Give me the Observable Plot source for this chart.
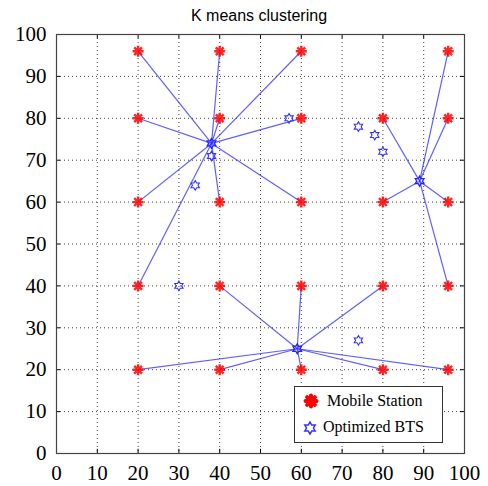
<!DOCTYPE html>
<html>
<head>
<meta charset="utf-8">
<script src="https://cdn.jsdelivr.net/npm/d3@7"></script>
<script src="https://cdn.jsdelivr.net/npm/@observablehq/plot@0.6"></script>
<style>
  html, body { margin: 0; padding: 0; background: #fff; }
  #wrap { position: relative; width: 488px; height: 486px; }
  #chart svg, #chart svg text { font-family: "Liberation Serif", "Times New Roman", serif !important; }
  #title { position: absolute; left: 0; width: 518px; top: 7px; text-align: center;
           font-family: "Liberation Sans", Arial, sans-serif; font-size: 16px; color: #000; }
  #legend { position: absolute; left: 294px; top: 386px; width: 149px; height: 57px;
            border: 1px solid #333; background: #fff; box-sizing: border-box;
            font-family: "Liberation Serif", "Times New Roman", serif; font-size: 16px; color: #000; }
  #legend .row { position: absolute; left: 0; display: flex; align-items: center; }
  #legend svg { display: block; }
</style>
</head>
<body>
<div id="wrap">
  <div id="chart"></div>
  <div id="title">K means clustering</div>
  <div id="legend">
    <div class="row" style="top:4px;left:5px;">
      <svg width="22" height="20"><g id="ms-icon"></g></svg>
      <span style="margin-left:5px;">Mobile Station</span>
    </div>
    <div class="row" style="top:30px;left:7px;">
      <svg width="18" height="20"><g id="bts-icon"></g></svg>
      <span style="margin-left:3px;">Optimized BTS</span>
    </div>
  </div>
</div>
<script>
// ---- data ----
const stationX = [20, 40, 60, 96, 20, 40, 60, 80, 96, 20, 40, 60, 80, 96, 20, 40, 60, 80, 96, 20, 40, 60, 80, 96];
const stationY = [96, 96, 96, 96, 80, 80, 80, 80, 80, 60, 60, 60, 60, 60, 40, 40, 40, 40, 40, 20, 20, 20, 20, 20];
const stationCluster = [0, 0, 0, 1, 0, 0, 0, 1, 1, 0, 0, 0, 1, 1, 0, 2, 2, 2, 1, 2, 2, 2, 2, 2];
const centroidX = [38, 89, 59];
const centroidY = [74, 65, 25];
const btsX = [57, 34, 38, 30, 74, 78, 80, 74];
const btsY = [80, 64, 71, 40, 78, 76, 72, 27];
const tickValues = [0, 10, 20, 30, 40, 50, 60, 70, 80, 90, 100];

// ---- derived tables ----
const stations = stationX.map((x, i) => ({x, y: stationY[i], c: stationCluster[i]}));
const links = stations.map(s => ({x1: centroidX[s.c], y1: centroidY[s.c], x2: s.x, y2: s.y}));
const centroids = centroidX.map((x, i) => ({x, y: centroidY[i]}));
const bts = btsX.map((x, i) => ({x, y: btsY[i]}));
const inner = tickValues.filter(v => v > 0 && v < 100);

// custom symbols
const hexagram = {
  draw(ctx, size) {
    const r = Math.sqrt(size / Math.PI);
    const ri = r / Math.sqrt(3);
    for (let k = 0; k < 12; k++) {
      const a = -Math.PI / 2 + k * Math.PI / 6;
      const rr = k % 2 === 0 ? r : ri;
      const px = rr * Math.cos(a), py = rr * Math.sin(a);
      if (k === 0) ctx.moveTo(px, py); else ctx.lineTo(px, py);
    }
    ctx.closePath();
  }
};
const asterisk8 = {
  draw(ctx, size) {
    const r = Math.sqrt(size / Math.PI);
    for (let k = 0; k < 4; k++) {
      const a = k * Math.PI / 4;
      ctx.moveTo(-r * Math.cos(a), -r * Math.sin(a));
      ctx.lineTo(r * Math.cos(a), r * Math.sin(a));
    }
  }
};

const tickLen = 1.0;
const chart = Plot.plot({
  width: 488,
  height: 486,
  marginLeft: 56,
  marginRight: 24,
  marginTop: 34,
  marginBottom: 33,
  style: {fontFamily: '"Liberation Serif", "Times New Roman", serif', fontSize: "20px", background: "#fff"},
  x: {domain: [0, 100], ticks: tickValues},
  y: {domain: [0, 100], ticks: tickValues},
  marks: [
    // dotted grid
    Plot.ruleX(inner, {stroke: "#000", strokeDasharray: "1,3", strokeWidth: 1, strokeOpacity: 0.75}),
    Plot.ruleY(inner, {stroke: "#000", strokeDasharray: "1,3", strokeWidth: 1, strokeOpacity: 0.75}),
    // inner ticks on all four sides
    Plot.ruleX(inner, {y1: 0, y2: tickLen, stroke: "#000"}),
    Plot.ruleX(inner, {y1: 100 - tickLen, y2: 100, stroke: "#000"}),
    Plot.ruleY(inner, {x1: 0, x2: tickLen, stroke: "#000"}),
    Plot.ruleY(inner, {x1: 100 - tickLen, x2: 100, stroke: "#000"}),
    // axes
    Plot.axisX({ticks: tickValues, tickSize: 0, tickPadding: 12, label: null, fontSize: 21}),
    Plot.axisY({ticks: tickValues, tickSize: 0, tickPadding: 10, label: null, fontSize: 21}),
    // links
    Plot.link(links, {x1: "x1", y1: "y1", x2: "x2", y2: "y2", stroke: "#2a2aff", strokeOpacity: 0.75, strokeWidth: 1.2}),
    // stations
    Plot.dot(stations, {x: "x", y: "y", symbol: asterisk8, r: 5.5, stroke: "#ff0000", strokeWidth: 2.4, strokeOpacity: 0.85}),
    // BTS hexagrams
    Plot.dot(bts, {x: "x", y: "y", symbol: hexagram, r: 4.8, stroke: "#3333ff", strokeWidth: 1.1, fill: "none"}),
    Plot.dot(centroids, {x: "x", y: "y", symbol: hexagram, r: 5, stroke: "#2222ff", strokeWidth: 1.3, fill: "none"}),
    Plot.frame({stroke: "#444", strokeWidth: 1.2})
  ]
});
document.getElementById("chart").appendChild(chart);

// legend icons via the same symbol drawers
function iconPath(sym, r) {
  const p = d3.path();
  sym.draw(p, Math.PI * r * r);
  return p.toString();
}
d3.select("#ms-icon").attr("transform", "translate(11,10)")
  .append("path").attr("d", iconPath(asterisk8, 5.5))
  .attr("stroke", "#ff0000").attr("stroke-width", 4).attr("stroke-linecap", "round").attr("fill", "none");
d3.select("#ms-icon").append("circle").attr("r", 4).attr("fill", "#ff0000");
d3.select("#bts-icon").attr("transform", "translate(8,11)")
  .append("path").attr("d", iconPath(hexagram, 6))
  .attr("stroke", "#3333ff").attr("stroke-width", 1.5).attr("fill", "none");
</script>
</body>
</html>
